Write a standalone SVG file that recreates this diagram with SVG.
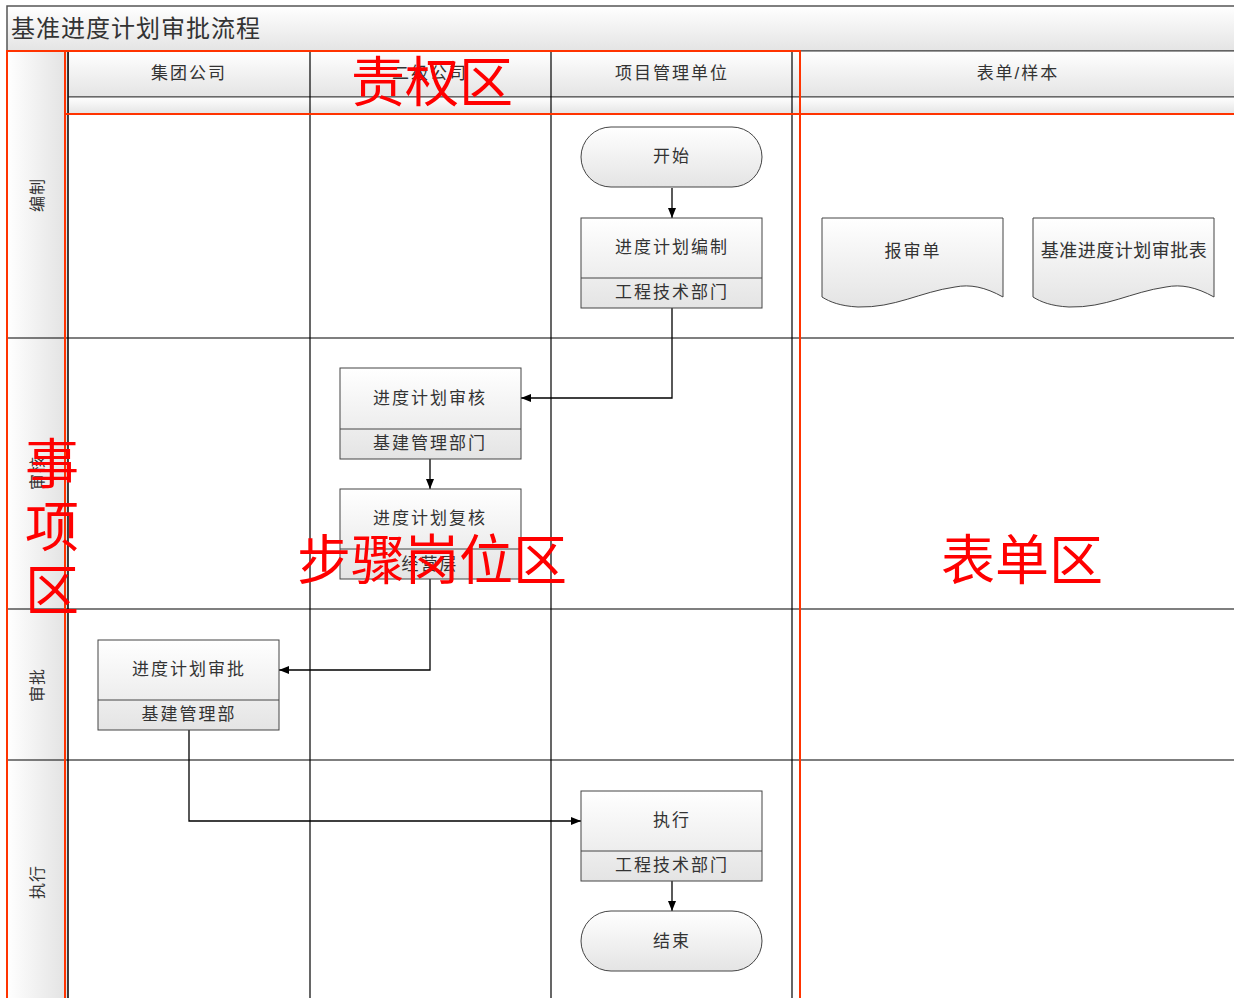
<svg xmlns="http://www.w3.org/2000/svg" width="1234" height="998" viewBox="0 0 1234 998">
<defs>
<linearGradient id="gv" x1="0" y1="0" x2="0" y2="1"><stop offset="0" stop-color="#ffffff"/><stop offset="1" stop-color="#e4e4e4"/></linearGradient>
<linearGradient id="gh" x1="0" y1="0" x2="1" y2="0"><stop offset="0" stop-color="#ffffff"/><stop offset="1" stop-color="#e2e2e2"/></linearGradient>
<marker id="arr" viewBox="0 0 10 10" refX="10" refY="5" markerWidth="10" markerHeight="10" markerUnits="userSpaceOnUse" orient="auto"><path d="M0,1 L10,5 L0,9 Z" fill="#000"/></marker>
<style>
.t{font-family:"Liberation Sans","Noto Sans CJK SC",sans-serif;fill:#333;text-anchor:middle;dominant-baseline:central}
.h{font-size:17px;letter-spacing:2px}
.b{font-size:17px;letter-spacing:2px}
.box{fill:url(#gv);stroke:#444;stroke-width:1}
.ln{stroke:#000;stroke-width:1.2;fill:none}
.cn{stroke:#000;stroke-width:1.3;fill:none;marker-end:url(#arr)}
.red{font-family:"Liberation Serif","Noto Sans CJK SC",serif;fill:#ff0000;font-size:54px;text-anchor:middle;dominant-baseline:central}
.rl{stroke:#ff3300;stroke-width:2;fill:none}
</style>
</defs>
<rect width="1234" height="998" fill="#fff"/>
<g id="frame">
<rect x="7" y="6" width="1240" height="45" fill="url(#gv)" stroke="#555" stroke-width="1.5"/>
<text x="11" y="28" class="t" style="text-anchor:start;font-size:24px;letter-spacing:1px">基准进度计划审批流程</text>
<rect x="68" y="51" width="1180" height="46" fill="url(#gv)" stroke="#555" stroke-width="1.2"/>
<rect x="68" y="97" width="1180" height="17" fill="url(#gv)" stroke="#444" stroke-width="1"/>
<rect x="7" y="51" width="61" height="960" fill="url(#gh)" stroke="#444" stroke-width="1"/>
<line class="ln" x1="68" y1="51" x2="68" y2="998"/>
<line class="ln" x1="310" y1="51" x2="310" y2="998"/>
<line class="ln" x1="551" y1="51" x2="551" y2="998"/>
<line class="ln" x1="792" y1="51" x2="792" y2="998"/>
<line class="ln" x1="7" y1="338" x2="1234" y2="338"/>
<line class="ln" x1="7" y1="609" x2="1234" y2="609"/>
<line class="ln" x1="7" y1="760" x2="1234" y2="760"/>
<text x="189" y="73" class="t h">集团公司</text>
<text x="430" y="73" class="t h">二级公司</text>
<text x="672" y="73" class="t h">项目管理单位</text>
<text x="1018" y="73" class="t h">表单/样本</text>
<text transform="translate(37,195) rotate(-90)" class="t" style="font-size:16px;letter-spacing:1px">编制</text>
<text transform="translate(37,473) rotate(-90)" class="t" style="font-size:16px;letter-spacing:1px">审核</text>
<text transform="translate(37,685) rotate(-90)" class="t" style="font-size:16px;letter-spacing:1px">审批</text>
<text transform="translate(37,882) rotate(-90)" class="t" style="font-size:16px;letter-spacing:1px">执行</text>
</g>
<g id="connectors">
<line class="cn" x1="672" y1="188" x2="672" y2="218"/>
<polyline class="cn" points="672,308 672,398 521,398"/>
<line class="cn" x1="430" y1="459" x2="430" y2="489"/>
<polyline class="cn" points="430,579 430,670 279,670"/>
<polyline class="cn" points="189,730 189,821 581,821"/>
<line class="cn" x1="672" y1="881" x2="672" y2="911"/>
</g>
<g id="start">
<rect x="581" y="127" width="181" height="60" rx="30" class="box"/>
<text x="672" y="156" class="t b">开始</text>
</g>
<g id="compile">
<rect x="581" y="218" width="181" height="90" class="box"/>
<line x1="581" y1="278" x2="762" y2="278" stroke="#444"/>
<text x="672" y="247" class="t b">进度计划编制</text>
<text x="672" y="292" class="t b">工程技术部门</text>
</g>
<g id="doc1">
<path d="M822,218 H1003 V297 C985,287 970,284 955,287 C920,292 895,308 858,307 C840,306 830,302 822,297 Z" class="box"/>
<text x="913" y="251" class="t b">报审单</text>
</g>
<g id="doc2">
<path d="M1033,218 H1214 V297 C1196,287 1181,284 1166,287 C1131,292 1106,308 1069,307 C1051,306 1041,302 1033,297 Z" class="box"/>
<text x="1124" y="251" class="t" style="font-size:18px;letter-spacing:0.5px">基准进度计划审批表</text>
</g>
<g id="review">
<rect x="340" y="368" width="181" height="91" class="box"/>
<line x1="340" y1="429" x2="521" y2="429" stroke="#444"/>
<text x="430" y="398" class="t b">进度计划审核</text>
<text x="430" y="443" class="t b">基建管理部门</text>
</g>
<g id="recheck">
<rect x="340" y="489" width="181" height="90" class="box"/>
<line x1="340" y1="549" x2="521" y2="549" stroke="#444"/>
<text x="430" y="518" class="t b">进度计划复核</text>
<text x="430" y="564" class="t b">经营层</text>
</g>
<g id="approve">
<rect x="98" y="640" width="181" height="90" class="box"/>
<line x1="98" y1="700" x2="279" y2="700" stroke="#444"/>
<text x="189" y="669" class="t b">进度计划审批</text>
<text x="189" y="714" class="t b">基建管理部</text>
</g>
<g id="execute">
<rect x="581" y="791" width="181" height="90" class="box"/>
<line x1="581" y1="851" x2="762" y2="851" stroke="#444"/>
<text x="672" y="820" class="t b">执行</text>
<text x="672" y="865" class="t b">工程技术部门</text>
</g>
<g id="end">
<rect x="581" y="911" width="181" height="60" rx="30" class="box"/>
<text x="672" y="941" class="t b">结束</text>
</g>
<g id="overlay">
<rect x="7" y="51" width="793" height="960" class="rl"/>
<line class="rl" x1="65" y1="51" x2="65" y2="998"/>
<line class="rl" x1="65" y1="114" x2="1234" y2="114"/>
<text x="432" y="84" class="red">责权区</text>
<text x="52" y="466" class="red">事</text>
<text x="52" y="529" class="red">项</text>
<text x="52" y="592" class="red">区</text>
<text x="432" y="562" class="red">步骤岗位区</text>
<text x="1022" y="562" class="red">表单区</text>
</g>
</svg>
